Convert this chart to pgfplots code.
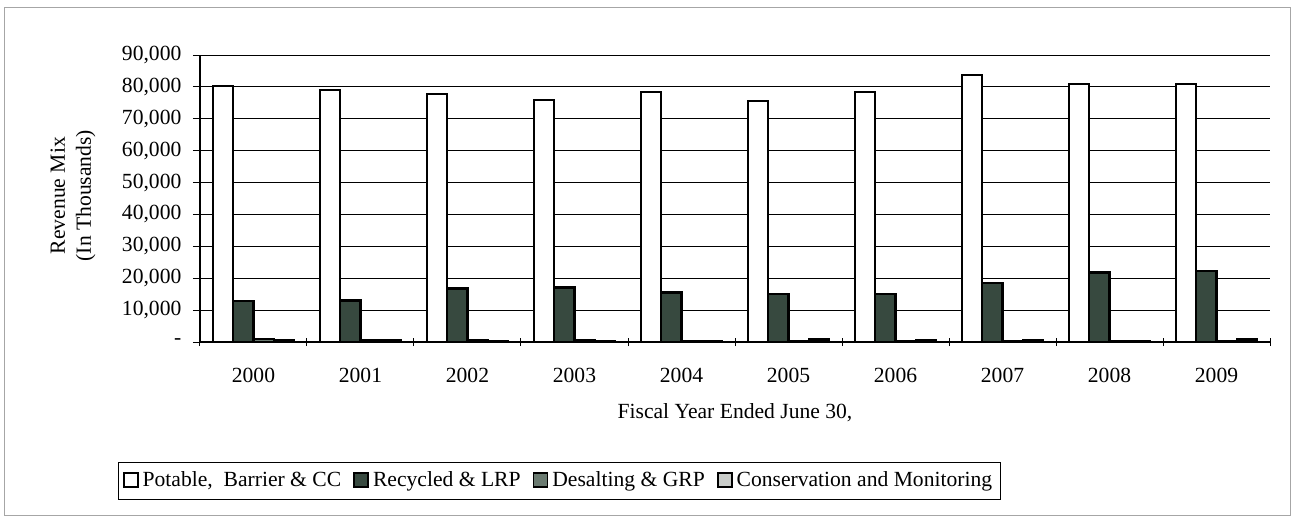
\documentclass[border=0pt]{standalone}
\usepackage{fontspec}
\setmainfont{Liberation Serif}
\usepackage{pgfplots}
\pgfplotsset{compat=1.18}

\definecolor{potable}{HTML}{FFFFFF}
\definecolor{recycled}{HTML}{37493F}
\definecolor{desalt}{HTML}{6A7A70}
\definecolor{conserv}{HTML}{C9CCC9}

\pgfplotstableread{
x potable recycled desalt conserv
0 80300 12800 1000 600
1 79000 13000 700 500
2 77800 16800 600 400
3 76000 17100 500 300
4 78500 15500 300 300
5 75500 15000 300 800
6 78300 15000 300 700
7 83700 18500 200 700
8 81000 21800 300 300
9 81000 22300 300 800
}\revenue

\begin{document}
\fontsize{10.8}{13}\selectfont
\begin{tikzpicture}
\useasboundingbox (-100pt,-91.5pt) rectangle (549pt,171pt);
\draw[gray!70, line width=0.5pt] (-97.5pt,-86.5pt) rectangle (545pt,167pt);
\begin{axis}[
    at={(0,0)}, anchor=south west,
    scale only axis,
    width=535pt, height=143.5pt,
    ybar=0pt,
    bar width=0.19,
    xmin=-0.5, xmax=9.5,
    ymin=0, ymax=90000,
    scaled y ticks=false,
    axis x line*=bottom,
    axis y line*=left,
    axis line style={black, line width=0.6pt},
    xtick=data,
    xticklabels={2000,2001,2002,2003,2004,2005,2006,2007,2008,2009},
    major x tick style={draw=none},
    minor xtick={-0.5,0.5,...,9.5},
    minor x tick style={black, line width=0.5pt},
    minor tick length=4pt,
    xticklabel style={yshift=-6pt},
    ytick={0,10000,...,90000},
    yticklabels={{-},{10,000},{20,000},{30,000},{40,000},{50,000},{60,000},{70,000},{80,000},{90,000}},
    yticklabel style={xshift=-2pt},
    major y tick style={black, line width=0.5pt},
    major tick length=7pt,
    ymajorgrids=true,
    grid style={black, line width=0.5pt},
    tick align=center,
    ylabel={Revenue Mix\\(In Thousands)},
    ylabel style={at={(axis description cs:-0.1187,0.51)}, anchor=center, align=center},
    xlabel={Fiscal Year Ended June 30,},
    xlabel style={at={(axis description cs:0.5,0)}, yshift=-35.5pt, anchor=center},
    legend columns=4,
    legend style={at={(axis description cs:0.336,-0.484)}, anchor=center,
        draw=black, line width=0.4pt, inner xsep=2pt, inner ysep=2.5pt,
        /tikz/every even column/.append style={column sep=4pt}},
    legend cell align=left,
    legend image code/.code={\draw[#1, line width=0.9pt] (0pt,-3.2pt) rectangle (7pt,3.8pt);},
    every axis plot/.append style={draw=black, line width=1.1pt},
]
\addplot[fill=potable] table[x=x, y=potable] {\revenue};
\addplot[fill=recycled] table[x=x, y=recycled] {\revenue};
\addplot[fill=desalt] table[x=x, y=desalt] {\revenue};
\addplot[fill=conserv] table[x=x, y=conserv] {\revenue};
\legend{{Potable,\ \ Barrier \& CC}, Recycled \& LRP, Desalting \& GRP, Conservation and Monitoring}
\end{axis}
\end{tikzpicture}
\end{document}
